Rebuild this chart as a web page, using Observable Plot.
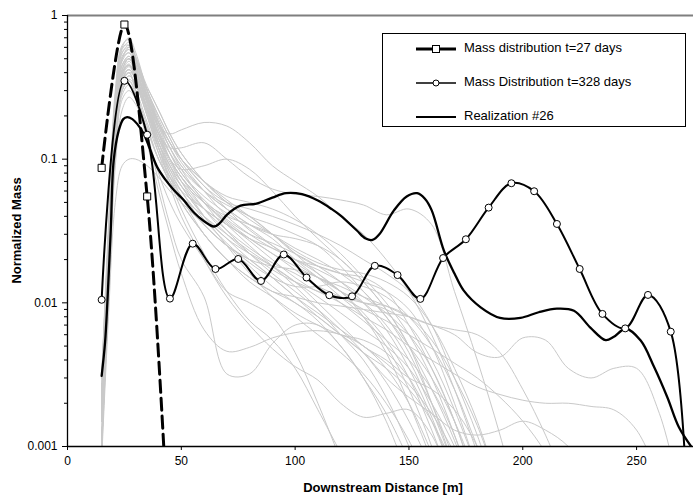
<!DOCTYPE html>
<html>
<head>
<meta charset="utf-8">
<script src="https://cdn.jsdelivr.net/npm/d3@7"></script>
<script src="https://cdn.jsdelivr.net/npm/@observablehq/plot@0.6"></script>
<style>
  html, body { margin: 0; padding: 0; background: #fff; }
  #chart svg { display: block; font-family: "Liberation Sans", Arial, sans-serif; }
</style>
</head>
<body>
<div id="chart"></div>
<script>
// ---------------- data ----------------
const xTicks = [0, 50, 100, 150, 200, 250];
const yTicks = [0.001, 0.01, 0.1, 1];
const yMinorTicks = [0.002,0.003,0.004,0.005,0.006,0.007,0.008,0.009,
                     0.02,0.03,0.04,0.05,0.06,0.07,0.08,0.09,
                     0.2,0.3,0.4,0.5,0.6,0.7,0.8,0.9];

const seriesNames = ["Mass distribution t=27 days", "Mass Distribution t=328 days", "Realization #26"];

// Mass distribution t=27 days (dashed, squares)
const t27X = [15, 25, 35, 45];
const t27Y = [0.087, 0.865, 0.055, 0.00015];

// Mass Distribution t=328 days (circles)
const t328X = [15,25,35,45,55,65,75,85,95,105,115,125,135,145,155,165,175,185,195,205,215,225,235,245,255,265,275];
const t328Y = [0.0105,0.351,0.148,0.0107,0.0258,0.0172,0.0202,0.0142,0.0217,0.015,0.0113,0.0111,0.0181,0.0156,0.01065,0.0205,0.0277,0.046,0.068,0.0598,0.0354,0.0172,0.00837,0.00664,0.01135,0.0063,0.00001];

// Realization #26 (thick black)
const real26X = [15,16.5,17.5,19,20.3,22.5,24.5,26.2,28.5,30.6,33.5,36,39.4,43,46.7,51,55.5,60,64.3,67,70,76,83,90,96,103,110,116,120,127,131,134,137,143.4,149,153.6,157,160,165.4,170,174,181.5,190,199,207,215,222.5,229.8,236.4,240,245.2,251.8,257.6,263.5,268.6,275];
const real26Y = [0.0031,0.0053,0.01,0.032,0.098,0.158,0.19,0.196,0.19,0.176,0.15,0.12,0.088,0.072,0.061,0.052,0.0425,0.037,0.034,0.036,0.041,0.0475,0.049,0.054,0.058,0.057,0.0515,0.045,0.0405,0.032,0.028,0.0274,0.03,0.044,0.055,0.058,0.053,0.044,0.023,0.016,0.0122,0.0093,0.00785,0.00785,0.0086,0.0091,0.0088,0.0067,0.0055,0.0058,0.0066,0.00546,0.0036,0.0022,0.00136,0.00095];

// other realizations (light grey), sampled on a common grid
const xGrid = [15,18,21,24,27,30,35,40,45,50,60,70,80,90,100,110,120,130,140,150,160,170,180,190,200,210,220,230,240,250,260,270];
const greyRealizations = [
  [0.002,0.03,0.25,0.6,0.7,0.55,0.3,0.18,0.12,0.09,0.06,0.045,0.035,0.028,0.02,0.015,0.011,0.008,0.005,0.0025,0.001,0.0003],
  [0.0015,0.02,0.2,0.5,0.6,0.5,0.32,0.22,0.15,0.11,0.07,0.05,0.04,0.035,0.03,0.025,0.018,0.012,0.008,0.005,0.003,0.0015,0.0006],
  [0.002,0.025,0.2,0.45,0.5,0.4,0.25,0.17,0.15,0.16,0.18,0.17,0.13,0.09,0.07,0.055,0.04,0.03,0.02,0.012,0.006,0.0025,0.0009],
  [0.001,0.015,0.15,0.4,0.45,0.38,0.22,0.13,0.09,0.07,0.05,0.04,0.035,0.03,0.022,0.016,0.012,0.01,0.009,0.007,0.004,0.0018,0.0007],
  [0.003,0.03,0.2,0.35,0.4,0.3,0.15,0.08,0.05,0.035,0.02,0.012,0.01,0.008,0.0045,0.002,0.0008],
  [0.002,0.02,0.15,0.35,0.4,0.3,0.15,0.07,0.035,0.02,0.011,0.0032,0.0032,0.0052,0.007,0.007,0.005,0.003,0.0015,0.0006],
  [0.0015,0.015,0.12,0.3,0.35,0.28,0.13,0.06,0.03,0.016,0.0065,0.0046,0.0049,0.0057,0.0062,0.0064,0.006,0.005,0.0035,0.002,0.0009],
  [0.002,0.025,0.22,0.55,0.62,0.5,0.3,0.2,0.14,0.1,0.065,0.05,0.045,0.04,0.035,0.03,0.025,0.02,0.016,0.012,0.007,0.003,0.0012,0.0004],
  [0.001,0.015,0.14,0.35,0.42,0.36,0.22,0.13,0.08,0.055,0.03,0.02,0.015,0.012,0.011,0.01,0.0095,0.009,0.0085,0.008,0.007,0.006,0.0045,0.0042,0.0057,0.0055,0.0035,0.003,0.0035,0.0035,0.0017,0.0004],
  [0.002,0.02,0.18,0.4,0.45,0.35,0.2,0.12,0.08,0.06,0.035,0.025,0.018,0.013,0.01,0.008,0.006,0.0045,0.003,0.0022,0.0017,0.0013,0.0012,0.0013,0.0015,0.0013,0.001,0.0006],
  [0.0015,0.018,0.16,0.4,0.48,0.4,0.25,0.15,0.1,0.075,0.045,0.03,0.022,0.017,0.014,0.012,0.01,0.008,0.0065,0.005,0.004,0.0032,0.0026,0.0023,0.0021,0.002,0.002,0.0019,0.0018,0.0013,0.0006],
  [0.002,0.02,0.18,0.42,0.5,0.42,0.25,0.15,0.12,0.12,0.13,0.1,0.075,0.062,0.057,0.055,0.052,0.048,0.041,0.045,0.035,0.012,0.004,0.0012,0.0003],
  [0.001,0.012,0.12,0.32,0.38,0.33,0.2,0.12,0.085,0.065,0.045,0.035,0.028,0.024,0.02,0.018,0.016,0.014,0.012,0.009,0.005,0.002,0.0007],
  [0.0025,0.03,0.28,0.62,0.68,0.5,0.26,0.15,0.1,0.075,0.05,0.035,0.025,0.018,0.013,0.009,0.006,0.004,0.0022,0.001,0.0004],
  [0.002,0.022,0.2,0.48,0.55,0.45,0.28,0.17,0.11,0.08,0.055,0.042,0.033,0.025,0.019,0.015,0.012,0.01,0.007,0.004,0.0018,0.0007],
  [0.0012,0.015,0.14,0.36,0.42,0.36,0.23,0.15,0.11,0.085,0.06,0.048,0.04,0.03,0.022,0.018,0.016,0.015,0.012,0.007,0.0035,0.0015,0.0005],
  [0.003,0.035,0.3,0.6,0.62,0.45,0.22,0.12,0.075,0.05,0.03,0.02,0.015,0.012,0.01,0.0075,0.005,0.003,0.0017,0.0008],
  [0.0018,0.02,0.18,0.42,0.5,0.42,0.27,0.18,0.13,0.1,0.07,0.055,0.05,0.045,0.038,0.03,0.022,0.015,0.01,0.006,0.003,0.0012,0.0004],
  [0.0012,0.014,0.13,0.3,0.35,0.3,0.18,0.11,0.075,0.055,0.035,0.025,0.02,0.018,0.017,0.015,0.012,0.008,0.0045,0.002,0.0008],
  [0.0008,0.008,0.05,0.09,0.1,0.1,0.09,0.075,0.06,0.05,0.035,0.025,0.02,0.015,0.011,0.008,0.006,0.0045,0.0035,0.0025,0.0015,0.0007],
  [0.002,0.025,0.22,0.5,0.55,0.42,0.24,0.14,0.09,0.065,0.04,0.028,0.022,0.018,0.014,0.01,0.007,0.005,0.004,0.003,0.0025,0.0018,0.001,0.0004],
  [0.0015,0.018,0.17,0.42,0.5,0.44,0.3,0.2,0.14,0.1,0.065,0.045,0.032,0.025,0.02,0.017,0.014,0.011,0.0085,0.006,0.0035,0.0015,0.0005],
  [0.002,0.022,0.2,0.45,0.52,0.42,0.25,0.15,0.1,0.085,0.09,0.1,0.085,0.06,0.04,0.028,0.02,0.014,0.009,0.005,0.002,0.0007],
  [0.001,0.012,0.11,0.28,0.33,0.28,0.17,0.1,0.07,0.05,0.03,0.02,0.014,0.011,0.0085,0.007,0.006,0.0055,0.0045,0.003,0.0015,0.0006],
  [0.0025,0.028,0.24,0.55,0.6,0.48,0.28,0.16,0.1,0.07,0.04,0.025,0.016,0.011,0.008,0.006,0.0045,0.0032,0.002,0.0011,0.0005],
  [0.0015,0.016,0.15,0.38,0.45,0.4,0.26,0.17,0.12,0.09,0.06,0.045,0.035,0.03,0.028,0.025,0.02,0.014,0.009,0.005,0.0025,0.0011,0.0004],
  [0.002,0.02,0.18,0.4,0.45,0.38,0.22,0.12,0.07,0.045,0.022,0.012,0.0075,0.0055,0.0035,0.0018,0.0009],
  [0.0018,0.02,0.17,0.38,0.42,0.35,0.2,0.11,0.065,0.04,0.02,0.011,0.007,0.0048,0.0036,0.0029,0.002,0.0016,0.0017,0.0018,0.0012,0.0005],
  [0.001,0.01,0.1,0.26,0.3,0.26,0.16,0.1,0.075,0.06,0.045,0.035,0.028,0.022,0.017,0.013,0.01,0.0075,0.0055,0.004,0.0025,0.0012,0.0004],
  [0.002,0.024,0.21,0.5,0.58,0.48,0.3,0.19,0.13,0.095,0.06,0.04,0.03,0.024,0.02,0.016,0.012,0.0085,0.0055,0.003,0.0013,0.0005],
  [0.0015,0.015,0.13,0.33,0.4,0.38,0.31,0.22,0.15,0.11,0.07,0.05,0.038,0.03,0.024,0.02,0.016,0.012,0.008,0.0045,0.002,0.0008],
  [0.0012,0.014,0.13,0.32,0.38,0.34,0.22,0.14,0.1,0.075,0.05,0.036,0.027,0.02,0.015,0.012,0.011,0.01,0.0095,0.008,0.0055,0.003,0.0014,0.0005],
  [0.003,0.03,0.26,0.58,0.65,0.52,0.3,0.18,0.12,0.085,0.05,0.032,0.022,0.016,0.012,0.009,0.0065,0.0045,0.0028,0.0015,0.0007],
  [0.0015,0.018,0.16,0.38,0.44,0.37,0.22,0.13,0.085,0.06,0.038,0.026,0.019,0.015,0.013,0.013,0.014,0.013,0.011,0.008,0.005,0.0025,0.001,0.0004],
  [0.0009,0.01,0.09,0.22,0.27,0.24,0.16,0.1,0.07,0.055,0.04,0.03,0.023,0.018,0.014,0.011,0.0085,0.0065,0.005,0.0035,0.002,0.001,0.0004],
  [0.002,0.02,0.17,0.4,0.46,0.38,0.23,0.14,0.095,0.07,0.045,0.032,0.024,0.019,0.016,0.013,0.011,0.009,0.0075,0.006,0.0048,0.0038,0.003,0.0022,0.0015,0.0009,0.0004],
  [0.0025,0.026,0.23,0.52,0.58,0.46,0.27,0.16,0.11,0.08,0.052,0.038,0.03,0.026,0.022,0.018,0.014,0.01,0.0065,0.0035,0.0016,0.0006],
  [0.0015,0.016,0.15,0.36,0.42,0.36,0.22,0.14,0.1,0.075,0.05,0.037,0.028,0.022,0.018,0.015,0.013,0.011,0.0095,0.008,0.007,0.0065,0.006,0.0045,0.0025,0.0012,0.0005],
  [0.001,0.012,0.12,0.3,0.36,0.32,0.21,0.13,0.09,0.065,0.04,0.028,0.02,0.015,0.011,0.0085,0.0065,0.005,0.0038,0.0027,0.0017,0.0009],
  [0.0018,0.02,0.19,0.45,0.52,0.44,0.28,0.18,0.13,0.1,0.07,0.052,0.04,0.03,0.023,0.019,0.017,0.016,0.014,0.011,0.007,0.0035,0.0015,0.0005]
];

// ---------------- build tables ----------------
const greyData = greyRealizations.flatMap((vals, i) => vals.map((v, j) => ({id: i, x: xGrid[j], y: v})));
const t27 = t27X.map((x, i) => ({x, y: t27Y[i]}));
const t328 = t328X.map((x, i) => ({x, y: t328Y[i]}));
const real26 = real26X.map((x, i) => ({x, y: real26Y[i]}));
const t27Markers = t27.filter(d => d.y >= 0.001);
const t328Markers = t328.filter(d => d.y >= 0.001);

const W = 695, H = 495;
const mL = 67, mR = 2, mT = 15, mB = 49;

const chart = Plot.plot({
  width: W,
  height: H,
  marginLeft: mL,
  marginRight: mR,
  marginTop: mT,
  marginBottom: mB,
  style: {fontFamily: "'Liberation Sans', Arial, sans-serif", fontSize: "12px", color: "#000", background: "#fff"},
  x: {domain: [0, 275], label: null},
  y: {type: "log", domain: [0.001, 1], label: null},
  marks: [
    Plot.line(greyData, {x: "x", y: "y", z: "id", stroke: "#c9c9c9", strokeWidth: 1, curve: "catmull-rom", clip: true}),
    Plot.line(t27, {x: "x", y: "y", stroke: "#000", strokeWidth: 3, strokeDasharray: "12,6", curve: "catmull-rom", clip: true}),
    Plot.line(t328, {x: "x", y: "y", stroke: "#000", strokeWidth: 2, curve: "catmull-rom", clip: true}),
    Plot.line(real26, {x: "x", y: "y", stroke: "#000", strokeWidth: 2.3, curve: "catmull-rom", clip: true}),
    Plot.dot(t27Markers, {x: "x", y: "y", symbol: "square", r: 4, fill: "#fff", stroke: "#000", strokeWidth: 1}),
    Plot.dot(t328Markers, {x: "x", y: "y", r: 3.5, fill: "#fff", stroke: "#000", strokeWidth: 1}),
    Plot.ruleY([1], {stroke: "#7f7f7f", strokeWidth: 2}),
    Plot.ruleX([0], {stroke: "#000", strokeWidth: 1.3}),
    Plot.ruleY([0.001], {stroke: "#000", strokeWidth: 1.3}),
    Plot.axisY(yMinorTicks, {tickSize: 3, tickFormat: () => "", label: null}),
    Plot.axisY(yTicks, {tickSize: 5, tickPadding: 5, tickFormat: d => String(d), label: null, fontSize: 12}),
    Plot.axisX(xTicks, {tickSize: 4, tickPadding: 6, label: null, fontSize: 12})
  ]
});

document.getElementById("chart").appendChild(chart);

// ---------------- axis titles & legend ----------------
const svg = d3.select(chart);
svg.append("text")
  .attr("transform", `translate(18,${(mT + H - mB) / 2}) rotate(-90)`)
  .attr("text-anchor", "middle")
  .attr("dominant-baseline", "middle")
  .attr("font-size", 13)
  .attr("font-weight", "bold")
  .text("Normalized Mass");
svg.append("text")
  .attr("x", 383)
  .attr("y", 492)
  .attr("text-anchor", "middle")
  .attr("font-size", 13)
  .attr("font-weight", "bold")
  .text("Downstream Distance [m]");

const lg = svg.append("g");
lg.append("rect").attr("x", 382.5).attr("y", 33.5).attr("width", 303).attr("height", 93)
  .attr("fill", "#fff").attr("stroke", "#000").attr("stroke-width", 1);
const rows = [49, 83, 117];
const lx0 = 416, lx1 = 456, lxm = 436;
// row 1
lg.append("line").attr("x1", lx0).attr("x2", lx1).attr("y1", rows[0]).attr("y2", rows[0])
  .attr("stroke", "#000").attr("stroke-width", 3);
lg.append("rect").attr("x", lxm - 3.5).attr("y", rows[0] - 3.5).attr("width", 7).attr("height", 7)
  .attr("fill", "#fff").attr("stroke", "#000").attr("stroke-width", 1);
// row 2
lg.append("line").attr("x1", lx0).attr("x2", lx1).attr("y1", rows[1]).attr("y2", rows[1])
  .attr("stroke", "#000").attr("stroke-width", 1.6);
lg.append("circle").attr("cx", lxm).attr("cy", rows[1]).attr("r", 3)
  .attr("fill", "#fff").attr("stroke", "#000").attr("stroke-width", 1);
// row 3
lg.append("line").attr("x1", lx0).attr("x2", lx1).attr("y1", rows[2]).attr("y2", rows[2])
  .attr("stroke", "#000").attr("stroke-width", 2);
seriesNames.forEach((name, i) => {
  lg.append("text").attr("x", 464).attr("y", rows[i])
    .attr("text-anchor", "start")
    .attr("dominant-baseline", "middle")
    .attr("font-size", 13).text(name);
});
</script>
</body>
</html>
